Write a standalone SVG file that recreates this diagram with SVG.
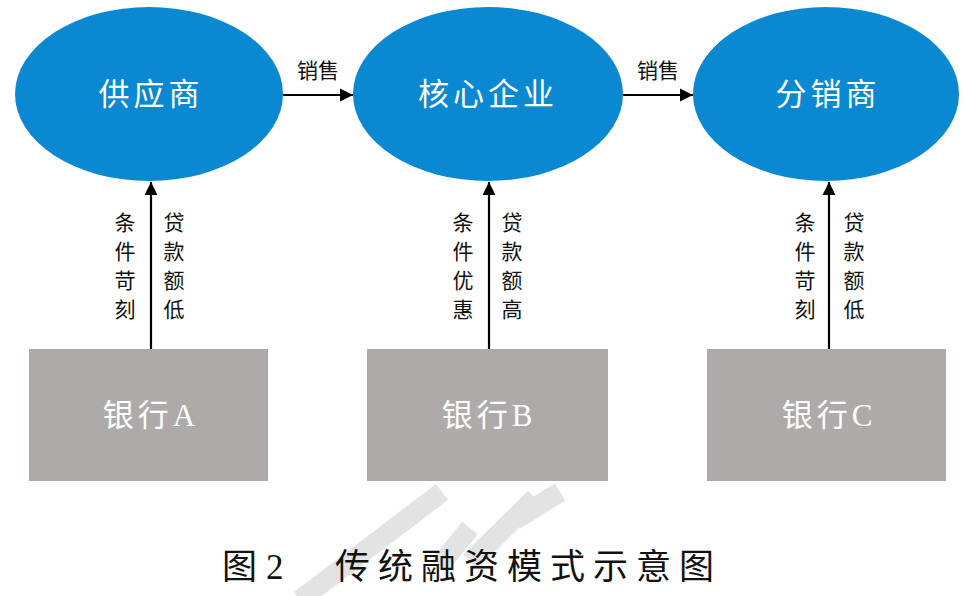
<svg xmlns="http://www.w3.org/2000/svg" width="974" height="596" viewBox="0 0 974 596">
  <style>
    .ell { fill: #0a89d2; }
    .box { fill: #aeaaaa; }
    .ntxt { fill: #ffffff; font-family: "Liberation Serif", "Noto Sans CJK SC", serif; font-size: 31px; text-anchor: middle; letter-spacing: 4px; }
    .lbl { fill: #111111; font-family: "Noto Sans CJK SC", sans-serif; font-size: 21px; text-anchor: middle; }
    .cap { fill: #111111; font-family: "Liberation Serif", "Noto Sans CJK SC", serif; font-size: 35px; }
    .edge { stroke: #000000; stroke-width: 2.2; fill: none; marker-end: url(#ah); }
    .wm { stroke: #e3e3e3; stroke-width: 20; fill: none; stroke-linecap: butt; }
  </style>
  <defs>
    <marker id="ah" viewBox="0 0 10 10" refX="10" refY="5" markerWidth="6" markerHeight="6" markerUnits="strokeWidth" orient="auto">
      <path d="M0,0 L10,5 L0,10 z" fill="#000000"/>
    </marker>
  </defs>
  <rect width="974" height="596" fill="#ffffff"/>

  <g id="watermark">
    <line class="wm" x1="300" y1="600" x2="442" y2="492"/>
    <line class="wm" x1="440" y1="565" x2="470" y2="528" stroke-width="10"/>
    <line class="wm" x1="470" y1="562" x2="535" y2="498" stroke-width="12"/>
    <line class="wm" x1="515" y1="520" x2="560" y2="492" stroke-width="12"/>
  </g>

  <g id="connectors">
    <line class="edge" x1="283" y1="95" x2="353" y2="95"/>
    <line class="edge" x1="623" y1="95" x2="693" y2="95"/>
    <line class="edge" x1="151" y1="349" x2="151" y2="182"/>
    <line class="edge" x1="489" y1="349" x2="489" y2="182"/>
    <line class="edge" x1="829" y1="349" x2="829" y2="182"/>
    <text class="lbl" x="318" y="78">销售</text>
    <text class="lbl" x="658" y="78">销售</text>
    <g class="lbl">
      <text x="125" y="230">条</text><text x="125" y="259">件</text><text x="125" y="288">苛</text><text x="125" y="317">刻</text>
      <text x="174" y="230">贷</text><text x="174" y="259">款</text><text x="174" y="288">额</text><text x="174" y="317">低</text>
      <text x="463" y="230">条</text><text x="463" y="259">件</text><text x="463" y="288">优</text><text x="463" y="317">惠</text>
      <text x="512" y="230">贷</text><text x="512" y="259">款</text><text x="512" y="288">额</text><text x="512" y="317">高</text>
      <text x="805" y="230">条</text><text x="805" y="259">件</text><text x="805" y="288">苛</text><text x="805" y="317">刻</text>
      <text x="854" y="230">贷</text><text x="854" y="259">款</text><text x="854" y="288">额</text><text x="854" y="317">低</text>
    </g>
  </g>

  <g id="supplier">
    <ellipse class="ell" cx="149" cy="94" rx="134" ry="87"/>
    <text class="ntxt" x="151" y="105">供应商</text>
  </g>
  <g id="core">
    <ellipse class="ell" cx="488" cy="94" rx="135" ry="87"/>
    <text class="ntxt" x="488" y="105">核心企业</text>
  </g>
  <g id="distributor">
    <ellipse class="ell" cx="826" cy="94" rx="133" ry="87"/>
    <text class="ntxt" x="828" y="105">分销商</text>
  </g>

  <g id="bankA">
    <rect class="box" x="29" y="349" width="239" height="132"/>
    <text class="ntxt" x="151" y="426" letter-spacing="1">银行A</text>
  </g>
  <g id="bankB">
    <rect class="box" x="367" y="349" width="241" height="132"/>
    <text class="ntxt" x="489" y="426" letter-spacing="1">银行B</text>
  </g>
  <g id="bankC">
    <rect class="box" x="707" y="349" width="239" height="132"/>
    <text class="ntxt" x="829" y="426" letter-spacing="1">银行C</text>
  </g>

  <g id="caption">
    <text class="cap" x="222" y="579">图</text>
    <text class="cap" x="266" y="579">2</text>
    <text class="cap" x="335" y="579" letter-spacing="8">传统融资模式示意图</text>
  </g>
</svg>
